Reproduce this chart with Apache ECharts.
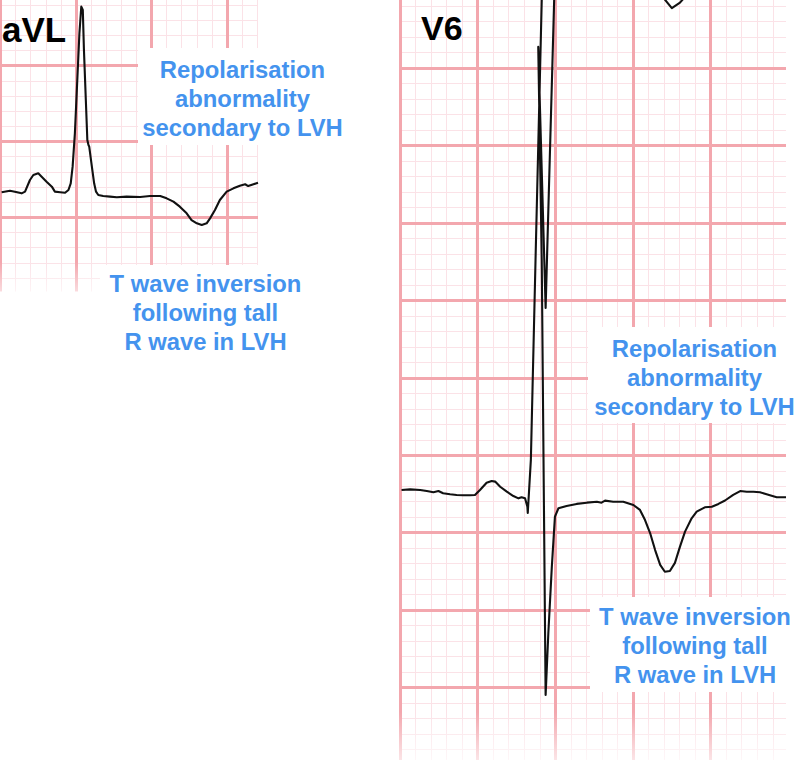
<!DOCTYPE html>
<html>
<head>
<meta charset="utf-8">
<script src="https://cdn.jsdelivr.net/npm/echarts@6/dist/echarts.min.js"></script>
<style>
html,body{margin:0;padding:0;background:#ffffff;}
#chart{width:801px;height:760px;}
</style>
</head>
<body>
<div id="chart"></div>
<script>
// ---- data (time in ms, amplitude in mV) ----
const leadNames = ['aVL', 'V6'];

const avlTimeMs = [3,25,38,56,65,78,87,100,109,122,136,144,158,171,180,186,191,197,203,209,214,218,221,226,230,233,235,242,248,253,259,272,290,308,334,370,396,423,440,458,475,493,506,520,533,546,555,568,581,599,617,634,648,656,670,682];
const avlMv = [0.165,0.175,0.169,0.158,0.169,0.246,0.279,0.290,0.268,0.235,0.202,0.169,0.165,0.162,0.180,0.224,0.334,0.554,0.884,1.214,1.389,1.367,1.104,0.774,0.510,0.477,0.466,0.334,0.224,0.169,0.147,0.140,0.136,0.132,0.136,0.134,0.140,0.140,0.125,0.103,0.070,0.026,-0.018,-0.040,-0.051,-0.040,-0.007,0.048,0.114,0.169,0.191,0.208,0.218,0.206,0.218,0.228];

const v6TimeMs = [4,26,52,69,86,99,111,129,146,163,180,193,206,223,236,245,258,275,292,305,313,322,328,329,337,349,365,384,397,375,356,365,375,382,391,399,408,429,455,481,507,519,528,549,575,601,618,631,644,657,670,682,695,708,721,734,751,764,785,803,820,837,858,876,893,910,927,944,970,994];
const v6Mv = [-0.224,-0.220,-0.224,-0.231,-0.239,-0.231,-0.245,-0.252,-0.256,-0.258,-0.258,-0.256,-0.224,-0.177,-0.166,-0.170,-0.203,-0.235,-0.263,-0.278,-0.271,-0.278,-0.332,-0.373,-0.030,1.261,2.940,3.909,2.940,0.951,2.637,1.261,-1.548,-1.148,-0.719,-0.396,-0.342,-0.327,-0.314,-0.306,-0.300,-0.306,-0.293,-0.300,-0.300,-0.321,-0.353,-0.418,-0.502,-0.612,-0.708,-0.752,-0.747,-0.695,-0.590,-0.493,-0.407,-0.364,-0.336,-0.332,-0.314,-0.292,-0.256,-0.231,-0.235,-0.235,-0.239,-0.252,-0.271,-0.271];

// small piece of the trace of the lead above, poking into the V6 strip
const v6OverlapTimeMs = [681,700,721,729];
const v6OverlapMv = [2.946,2.887,2.923,2.946];

const noteRepolarisation = ['Repolarisation', 'abnormality', 'secondary to LVH'];
const noteTInversion = ['T wave inversion', 'following tall', 'R wave in LVH'];

// ---- styles ----
const MAJOR = '#f3a7ae';
const MINOR = '#fbe2e7';
const TRACE = '#111111';
const NOTE = '#4493ee';
const NOTE_FONT = 'bold 23.8px "Liberation Sans", Arial, Helvetica, sans-serif';

function zip(xs, ys) { return xs.map((x, i) => [x, ys[i]]); }

function axisBase(gi, min, max, interval, layer) {
  return {
    type: 'value', gridIndex: gi, min: min, max: max, interval: interval,
    z: layer === 'major' ? 1 : 0,
    axisLine: { show: false }, axisTick: { show: false }, axisLabel: { show: false },
    splitLine: { show: layer === 'major', showMinLine: true, showMaxLine: false, lineStyle: { color: MAJOR, width: 3 } },
    minorTick: { show: false, splitNumber: 5 },
    minorSplitLine: { show: layer === 'minor', lineStyle: { color: MINOR, width: 1 } }
  };
}

const grids = [
  { left: 0.5, top: 0, width: 257.5, height: 293.1, outerBoundsMode: 'none', containLabel: false },
  { left: 400, top: 0, width: 386, height: 765, outerBoundsMode: 'none', containLabel: false }
];

const xAxes = [
  Object.assign(axisBase(0, 0, 682, 200, 'major'), { position: 'bottom' }),
  Object.assign(axisBase(0, 0, 682, 200, 'minor'), { position: 'top' }),
  Object.assign(axisBase(1, 0, 994, 200, 'major'), { position: 'bottom' }),
  Object.assign(axisBase(1, 0, 994, 200, 'minor'), { position: 'top' })
];
const yAxes = [
  Object.assign(axisBase(0, -0.5, 1.433, 0.5, 'major'), { position: 'left' }),
  Object.assign(axisBase(0, -0.5, 1.433, 0.5, 'minor'), { position: 'right' }),
  Object.assign(axisBase(1, -2, 2.94, 0.5, 'major'), { position: 'left' }),
  Object.assign(axisBase(1, -2, 2.94, 0.5, 'minor'), { position: 'right' })
];
yAxes[0].splitLine.showMinLine = false;
yAxes[2].splitLine.showMinLine = false;

function traceSeries(name, xi, yi, data) {
  return {
    name: name, type: 'line', xAxisIndex: xi, yAxisIndex: yi, data: data,
    showSymbol: false, symbol: 'none', smooth: false, clip: true, silent: true,
    lineStyle: { color: TRACE, width: 2.1, join: 'round' }, z: 5
  };
}

function whiteBox(x, y, w, h) {
  return { type: 'rect', shape: { x: x, y: y, width: w, height: h }, style: { fill: '#ffffff' }, z: 100, silent: true };
}
function note(lines, cx, top) {
  return { type: 'text', z: 101, silent: true,
    style: { text: lines.join('\n'), x: cx, y: top, align: 'center', verticalAlign: 'top', font: NOTE_FONT, fill: NOTE, lineHeight: 28.8 } };
}
function fade(x, y, w, h, a) {
  return { type: 'rect', shape: { x: x, y: y, width: w, height: h }, z: 99, silent: true,
    style: { fill: { type: 'linear', x: 0, y: 0, x2: 0, y2: 1, colorStops: [
      { offset: 0, color: 'rgba(255,255,255,0)' }, { offset: 1, color: 'rgba(255,255,255,' + a + ')' } ] } } };
}

const chart = echarts.init(document.getElementById('chart'), null, { renderer: 'svg' });
chart.setOption({
  animation: false,
  backgroundColor: '#ffffff',
  grid: grids,
  xAxis: xAxes,
  yAxis: yAxes,
  series: [
    traceSeries(leadNames[0], 0, 0, zip(avlTimeMs, avlMv)),
    traceSeries(leadNames[1], 2, 2, zip(v6TimeMs, v6Mv)),
    traceSeries('overlap', 2, 2, zip(v6OverlapTimeMs, v6OverlapMv))
  ],
  graphic: [
    fade(0, 262, 258, 30, 0.6),
    fade(398, 712, 390, 48, 0.7),
    whiteBox(0, 291.5, 262, 12),
    whiteBox(138, 48, 215, 97),
    whiteBox(100, 265, 215, 95),
    whiteBox(588, 327, 213, 96),
    whiteBox(590, 597, 211, 95),
    note(noteRepolarisation, 242.5, 55.5),
    note(noteTInversion, 205.5, 269),
    note(noteRepolarisation, 694.5, 334),
    note(noteTInversion, 695, 602.5),
    { type: 'text', z: 101, silent: true, style: { text: leadNames[0], x: 2, y: 29.5, verticalAlign: 'middle', align: 'left', font: 'bold 35px "Liberation Sans", Arial, Helvetica, sans-serif', fill: '#000000' } },
    { type: 'text', z: 101, silent: true, style: { text: leadNames[1], x: 421, y: 28.2, verticalAlign: 'middle', align: 'left', font: 'bold 34px "Liberation Sans", Arial, Helvetica, sans-serif', fill: '#000000' } }
  ]
});
</script>
</body>
</html>
